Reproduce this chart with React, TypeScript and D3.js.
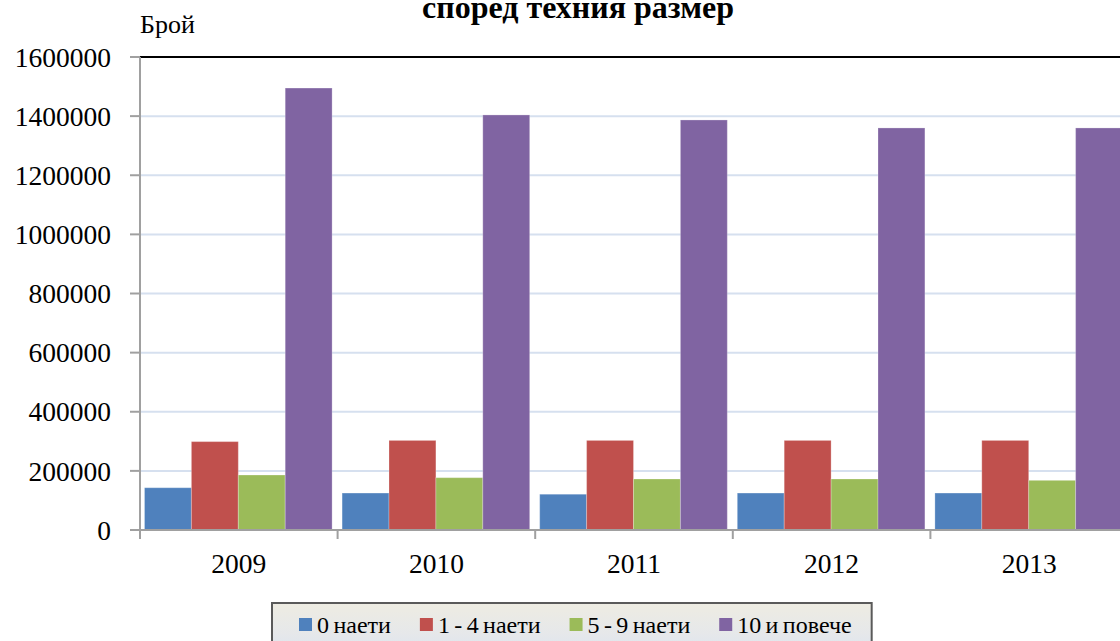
import React from "react";
import * as d3 from "d3";

const years = ["2009", "2010", "2011", "2012", "2013"];
const seriesNames = ["0 наети", "1 - 4 наети", "5 - 9 наети", "10 и повече"];
const seriesColors = ["#4F81BD", "#C0504D", "#9BBB59", "#8064A2"];
const zeroEmp = [143000, 125000, 121000, 125000, 125000];
const oneToFour = [299000, 303000, 303000, 303000, 303000];
const fiveToNine = [186000, 177000, 172500, 172500, 168000];
const tenPlus = [1495000, 1404000, 1387000, 1360000, 1360000];
const yTicks = [0, 200000, 400000, 600000, 800000, 1000000, 1200000, 1400000, 1600000];
const titleText = "според техния размер";
const yLabel = "Брой";

const seriesValues = [zeroEmp, oneToFour, fiveToNine, tenPlus];

const W = 1120;
const H = 641;
const FONT = "'Liberation Serif'";
const tStyle = { fontFamily: FONT };
const LEG_WORD_SPACING = -1.6;

function measure(text: string, font: string): number {
  const c = document.createElement("canvas");
  const ctx = c.getContext("2d");
  const spaces = (text.match(/ /g) || []).length;
  if (!ctx) return text.length * 11;
  ctx.font = font;
  return ctx.measureText(text).width + spaces * LEG_WORD_SPACING;
}

export default function App() {
  const plotLeft = 140;
  const step = 197.6;
  const plotRight = plotLeft + step * years.length;
  const y = d3.scaleLinear().domain([0, 1600000]).range([530, 57]);
  const x0 = d3.scaleBand<string>().domain(years).range([plotLeft, plotRight]).padding(0);
  const x1 = d3
    .scaleBand<string>()
    .domain(seriesNames)
    .range([4.5, x0.bandwidth() - 5.5])
    .padding(0);

  // legend layout
  const legFont = `24px 'Liberation Serif'`;
  const legLeft = 272;
  let cursor = legLeft + 27;
  const legItems = seriesNames.map((name, i) => {
    const mx = cursor;
    const tx = mx + 18;
    const tw = measure(name, legFont);
    cursor = tx + tw + 29;
    return { name, color: seriesColors[i], mx, tx, tw };
  });
  const lastItem = legItems[legItems.length - 1];
  const legRight = lastItem.tx + lastItem.tw + 20;

  return (
    <svg
      width={W}
      height={H}
      style={{ position: "absolute", left: 0, top: 0, display: "block", background: "#fff", fontFamily: FONT }}
    >
      <defs>
        <linearGradient id="legBg" x1="0" y1="0" x2="0" y2="1">
          <stop offset="0" stopColor="#EEECE2" />
          <stop offset="0.6" stopColor="#E6E8EA" />
          <stop offset="1" stopColor="#DDE4EF" />
        </linearGradient>
      </defs>

      {/* title */}
      <text x={578} y={18} textAnchor="middle" fontSize={32} fontWeight="bold" fill="#000" style={tStyle}>
        {titleText}
      </text>

      {/* y label */}
      <text x={140} y={33} fontSize={26} fill="#000" style={tStyle}>
        {yLabel}
      </text>

      {/* gridlines */}
      {yTicks
        .filter((t) => t > 0 && t < 1600000)
        .map((t) => (
          <line key={t} x1={plotLeft} x2={W} y1={y(t)} y2={y(t)} stroke="#D6E0EF" strokeWidth={2} />
        ))}
      <line x1={plotLeft} x2={W} y1={y(1600000)} y2={y(1600000)} stroke="#000" strokeWidth={2} />

      {/* bars */}
      {years.map((yr, gi) => (
        <g key={yr} transform={`translate(${x0(yr)},0)`}>
          {seriesNames.map((s, si) => {
            const v = seriesValues[si][gi];
            return (
              <rect
                key={s}
                x={x1(s)}
                y={y(v)}
                width={x1.bandwidth()}
                height={y(0) - y(v)}
                fill={seriesColors[si]}
                stroke="rgba(255,255,255,0.25)"
                strokeWidth={1}
              />
            );
          })}
        </g>
      ))}

      {/* y axis */}
      <line x1={plotLeft} x2={plotLeft} y1={y(1600000)} y2={y(0)} stroke="#A0A0A0" strokeWidth={2} />
      {yTicks.map((t) => (
        <g key={t}>
          <line x1={plotLeft - 10} x2={plotLeft} y1={y(t)} y2={y(t)} stroke="#A0A0A0" strokeWidth={2} />
          <text x={111} y={y(t)} dy="0.35em" textAnchor="end" fontSize={27.5} fill="#000" style={tStyle}>
            {t}
          </text>
        </g>
      ))}

      {/* x axis */}
      <line x1={plotLeft} x2={W} y1={y(0)} y2={y(0)} stroke="#A0A0A0" strokeWidth={2} />
      {years.map((yr) => (
        <line
          key={"t" + yr}
          x1={x0(yr)}
          x2={x0(yr)}
          y1={y(0)}
          y2={y(0) + 9}
          stroke="#A0A0A0"
          strokeWidth={2}
        />
      ))}
      {years.map((yr) => (
        <text
          key={"l" + yr}
          x={(x0(yr) as number) + x0.bandwidth() / 2}
          y={573}
          textAnchor="middle"
          fontSize={27.5}
          fill="#000"
          style={tStyle}
        >
          {yr}
        </text>
      ))}

      {/* legend */}
      <rect
        x={legLeft}
        y={603}
        width={legRight - legLeft}
        height={50}
        fill="url(#legBg)"
        stroke="#5A5A5A"
        strokeWidth={2}
      />
      {legItems.map((it) => (
        <g key={it.name}>
          <rect x={it.mx} y={618} width={13} height={13} fill={it.color} />
          <text
            x={it.tx}
            y={633}
            fontSize={24}
            fill="#000"
            style={{ fontFamily: FONT, wordSpacing: `${LEG_WORD_SPACING}px` }}
          >
            {it.name}
          </text>
        </g>
      ))}
    </svg>
  );
}
